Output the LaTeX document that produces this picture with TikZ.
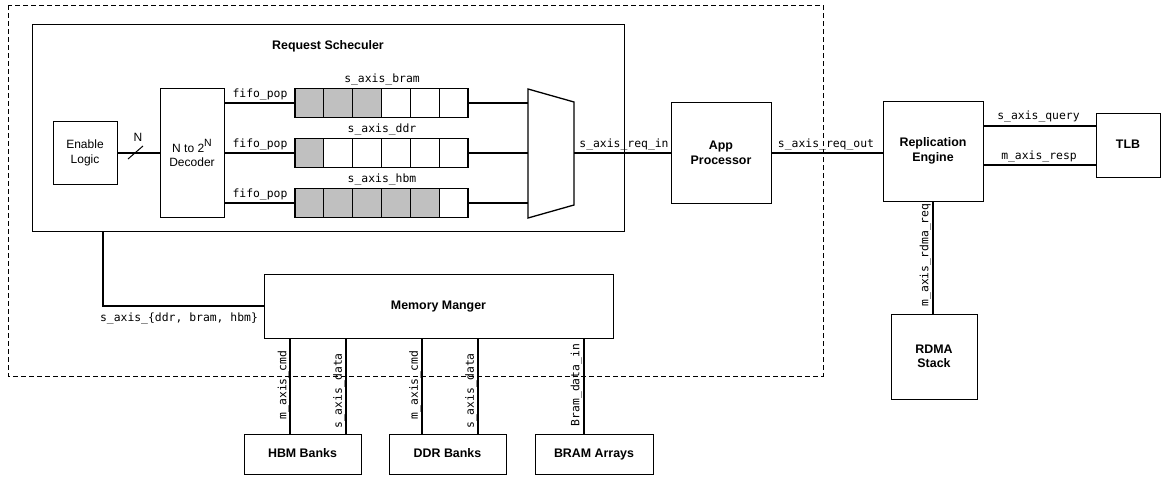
\documentclass[tikz,border=0pt]{standalone}
\usepackage{fontspec}
\setmainfont{Liberation Sans}
\newfontfamily\monof{DejaVu Sans Mono}
\newcommand\bxfont{\fontsize{12.4}{14.5}\selectfont\bfseries}
\newcommand\nmfont{\fontsize{12}{14.5}\selectfont}
\newcommand\sgfont{\monof\fontsize{11.4}{13}\selectfont}
\definecolor{cellgray}{HTML}{C0C0C0}
\begin{document}
\begin{tikzpicture}[x=1pt,y=-1pt,
  box/.style={draw, line width=1pt, inner sep=0pt, outer sep=0pt, align=center, font=\bxfont},
  onebox/.style={box, text height=9pt, text depth=2.6pt},
  nbox/.style={box, font=\nmfont},
  cell/.style={draw, line width=1.3pt, inner sep=0pt, outer sep=0pt, minimum width=28.83pt, minimum height=29pt},
  wire/.style={line width=1.6pt},
  sig/.style={font=\sgfont, inner sep=0pt}]
\useasboundingbox (0,0) rectangle (1163,477);
% outer dashed region
\draw[line width=0.8pt, dash pattern=on 5pt off 3pt] (8,5) rectangle (823,376);
% request scheduler
\node[box, minimum width=592pt, minimum height=207pt] (rs) at (328,127.5) {};
\node[font=\bxfont, inner sep=0pt] (rstitle) at (328,46) {Request Scheculer};
\node[nbox, minimum width=64pt, minimum height=63pt] (el) at (85,153) {Enable\\Logic};
\node[nbox, minimum width=64pt, minimum height=129pt] (dec) at (192,153) {N to 2\raisebox{0.9ex}{\fontsize{10.5}{12}\selectfont N}\\Decoder};
\draw[wire] (el.east) -- (dec.west);
\draw[line width=1pt] (128,159) -- (143,146);
\node[font=\nmfont, inner sep=0pt] (nlab) at (138,137) {N};
% mux
\draw[line width=1.3pt] (528,89) -- (574,102) -- (574,205) -- (528,218) -- cycle;
\coordinate (mb) at (528,103);
\coordinate (md) at (528,153);
\coordinate (mh) at (528,203);
\coordinate (mo) at (574,153);
% fifos
\foreach \r/\y/\n/\k in {b/103/bram/3, d/153/ddr/1, h/203/hbm/5}{
  \foreach \i in {1,...,6}{
    \pgfmathsetmacro\cx{295+28.83*(\i-0.5)}
    \ifnum\i>\k\relax\def\fc{white}\else\def\fc{cellgray}\fi
    \node[cell, fill=\fc] (\r\i) at (\cx,\y) {};
  }
  \node[sig] (\r lab) at (382,\y-23) {s\_axis\_\n};
  \node[sig] (\r pop) at (260,\y-8.5) {fifo\_pop};
  \draw[wire] (dec.east |- \r1.west) -- (\r1.west);
  \draw[wire] (\r6.east) -- (m\r);
}
% app processor
\node[box, minimum width=100pt, minimum height=101pt] (app) at (721,153) {App\\Processor};
\draw[wire] (mo) -- (app.west);
\node[sig] (reqin) at (624,145) {s\_axis\_req\_in};
% replication engine
\node[box, minimum width=100pt, minimum height=100pt] (rep) at (933,151) {Replication\\Engine};
\draw[wire] (app.east) -- (app.east -| rep.west);
\node[sig] (reqout) at (826,145) {s\_axis\_req\_out};
% TLB
\node[onebox, minimum width=64pt, minimum height=64pt] (tlb) at (1128,145) {TLB};
\coordinate (q) at (1000,126);
\coordinate (r) at (1000,165);
\draw[wire] (rep.east |- q) -- (tlb.west |- q);
\draw[wire] (rep.east |- r) -- (tlb.west |- r);
\node[sig] (qlab) at (1038.5,117) {s\_axis\_query};
\node[sig] (rlab) at (1039,157) {m\_axis\_resp};
% RDMA
\node[box, minimum width=86pt, minimum height=85pt] (rdma) at (934,356.5) {RDMA\\Stack};
\draw[wire] (rep.south) -- (rdma.north -| rep.south);
\node[sig, rotate=90] (rdmalab) at (925.5,255) {m\_axis\_rdma\_req};
% memory manager
\node[onebox, minimum width=349pt, minimum height=64pt] (mm) at (438.5,306) {Memory Manger};
\coordinate (c1) at (103,0);
\draw[wire] (rs.south -| c1) |- (mm.west);
\node[sig] (mmlab) at (179,319) {s\_axis\_\{ddr, bram, hbm\}};
% memories
\node[onebox, minimum width=117pt, minimum height=40pt] (hbm) at (302.5,454) {HBM Banks};
\node[onebox, minimum width=117pt, minimum height=40pt] (ddr) at (447.5,454) {DDR Banks};
\node[onebox, minimum width=118pt, minimum height=40pt] (bram) at (594,454) {BRAM Arrays};
\coordinate (x1) at (290,0);
\coordinate (x2) at (346,0);
\coordinate (x3) at (422,0);
\coordinate (x4) at (478,0);
\coordinate (x5) at (584,0);
\draw[wire] (mm.south -| x1) -- (hbm.north -| x1);
\draw[wire] (mm.south -| x2) -- (hbm.north -| x2);
\draw[wire] (mm.south -| x3) -- (ddr.north -| x3);
\draw[wire] (mm.south -| x4) -- (ddr.north -| x4);
\draw[wire] (mm.south -| x5) -- (bram.north -| x5);
\node[sig, rotate=90] (l1) at (283.5,385) {m\_axis\_cmd};
\node[sig, rotate=90] (l2) at (339,391) {s\_axis\_data};
\node[sig, rotate=90] (l3) at (415,385) {m\_axis\_cmd};
\node[sig, rotate=90] (l4) at (471,391) {s\_axis\_data};
\node[sig, rotate=90] (l5) at (576.5,385) {Bram\_data\_in};
\end{tikzpicture}
\end{document}
